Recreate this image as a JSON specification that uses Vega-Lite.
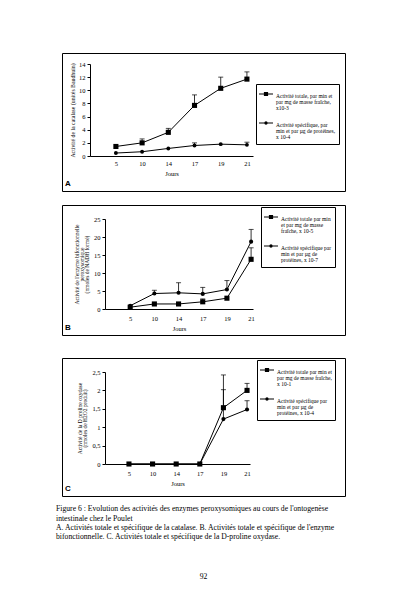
{
  "$schema": "https://vega.github.io/schema/vega-lite/v6.json",
  "background": "white",
  "padding": {"left": 56, "top": 52, "right": 0, "bottom": 0},
  "datasets": {
    "catalase": [
      {"jour": 5, "serie": "totale", "valeur": 1.45, "haut": null},
      {"jour": 10, "serie": "totale", "valeur": 2.0, "haut": 2.6},
      {"jour": 14, "serie": "totale", "valeur": 3.6, "haut": 4.2},
      {"jour": 17, "serie": "totale", "valeur": 7.7, "haut": 9.3},
      {"jour": 19, "serie": "totale", "valeur": 10.3, "haut": 12.0},
      {"jour": 21, "serie": "totale", "valeur": 11.7, "haut": 12.8},
      {"jour": 5, "serie": "spécifique", "valeur": 0.45, "haut": null},
      {"jour": 10, "serie": "spécifique", "valeur": 0.65, "haut": null},
      {"jour": 14, "serie": "spécifique", "valeur": 1.15, "haut": null},
      {"jour": 17, "serie": "spécifique", "valeur": 1.6, "haut": 2.0},
      {"jour": 19, "serie": "spécifique", "valeur": 1.8, "haut": null},
      {"jour": 21, "serie": "spécifique", "valeur": 1.7, "haut": 2.1}
    ],
    "enzyme": [
      {"jour": 5, "serie": "totale", "valeur": 0.5, "haut": null},
      {"jour": 10, "serie": "totale", "valeur": 1.4, "haut": null},
      {"jour": 14, "serie": "totale", "valeur": 1.4, "haut": null},
      {"jour": 17, "serie": "totale", "valeur": 2.0, "haut": 2.8},
      {"jour": 19, "serie": "totale", "valeur": 3.0, "haut": null},
      {"jour": 21, "serie": "totale", "valeur": 13.8, "haut": 17.0},
      {"jour": 5, "serie": "spécifique", "valeur": 0.9, "haut": null},
      {"jour": 10, "serie": "spécifique", "valeur": 4.3, "haut": 5.2},
      {"jour": 14, "serie": "spécifique", "valeur": 4.5, "haut": 7.3},
      {"jour": 17, "serie": "spécifique", "valeur": 4.2, "haut": 6.0},
      {"jour": 19, "serie": "spécifique", "valeur": 5.4, "haut": 7.9},
      {"jour": 21, "serie": "spécifique", "valeur": 18.7, "haut": 22.1}
    ],
    "oxydase": [
      {"jour": 5, "serie": "totale", "valeur": 0, "haut": null},
      {"jour": 10, "serie": "totale", "valeur": 0, "haut": null},
      {"jour": 14, "serie": "totale", "valeur": 0, "haut": null},
      {"jour": 17, "serie": "totale", "valeur": 0, "haut": null},
      {"jour": 19, "serie": "totale", "valeur": 1.53, "haut": 2.42},
      {"jour": 21, "serie": "totale", "valeur": 2.0, "haut": 2.19},
      {"jour": 5, "serie": "spécifique", "valeur": 0, "haut": null},
      {"jour": 10, "serie": "spécifique", "valeur": 0, "haut": null},
      {"jour": 14, "serie": "spécifique", "valeur": 0, "haut": null},
      {"jour": 17, "serie": "spécifique", "valeur": 0, "haut": null},
      {"jour": 19, "serie": "spécifique", "valeur": 1.22, "haut": 2.02},
      {"jour": 21, "serie": "spécifique", "valeur": 1.48, "haut": 1.72}
    ]
  },
  "spacing": 12,
  "vconcat": [
    {
      "width": 283,
      "height": 138,
      "data": {"name": "catalase"},
      "title": {"text": "A", "orient": "bottom", "anchor": "start", "offset": -11, "dx": 3, "font": "Liberation Sans", "fontSize": 8, "fontWeight": "bold", "color": "black"},
      "encoding": {
        "x": {
          "field": "jour", "type": "ordinal",
          "scale": {"type": "point", "domain": [5, 10, 14, 17, 19, 21], "range": [28, 191], "padding": 0.61, "align": 0.81},
          "axis": {"title": "Jours", "offset": -35, "labelAngle": 0, "ticks": false, "labelPadding": 4, "titlePadding": 4}
        },
        "y": {
          "field": "valeur", "type": "quantitative",
          "scale": {"domain": [0, 14], "range": [103, 11], "nice": false},
          "axis": {"title": "Activité de la catalase (unités Baudhuin)", "offset": -28, "values": [0, 2, 4, 6, 8, 10, 12, 14], "format": "d", "titleFontSize": 5.8, "titlePadding": 3}
        }
      },
      "layer": [
        {"mark": {"type": "line", "color": "black", "strokeWidth": 1}, "encoding": {"detail": {"field": "serie"}}},
        {"transform": [{"filter": "datum.haut != null"}], "mark": {"type": "rule", "color": "black", "strokeWidth": 0.8}, "encoding": {"y2": {"field": "haut"}}},
        {"transform": [{"filter": "datum.haut != null"}], "mark": {"type": "tick", "color": "black", "size": 5, "thickness": 1}, "encoding": {"y": {"field": "haut", "type": "quantitative"}}},
        {"mark": {"type": "point", "filled": true, "color": "black", "opacity": 1}, "encoding": {
          "shape": {"field": "serie", "type": "nominal", "scale": {"domain": ["totale", "spécifique"], "range": ["square", "circle"]}, "legend": null},
          "size": {"field": "serie", "type": "nominal", "scale": {"domain": ["totale", "spécifique"], "range": [26, 15]}, "legend": null}}},
        {"mark": {"type": "point", "size": 0, "filled": true, "color": "black", "opacity": 1}, "encoding": {
          "shape": {"field": "serie", "type": "nominal",
            "scale": {"domain": ["totale", "spécifique"], "range": ["M-1,-0.07H-0.3V0.07H-1ZM0.3,-0.07H1V0.07H0.3ZM-0.3,-0.3H0.3V0.3H-0.3Z", "M-1,-0.07H-0.24V0.07H-1ZM0.24,-0.07H1V0.07H0.24ZM0.24,0A0.24,0.24,0,1,1,-0.24,0A0.24,0.24,0,1,1,0.24,0Z"]},
            "legend": {"title": null, "orient": "none", "legendX": 194, "legendY": 31,
              "labelExpr": "datum.label == 'totale' ? ['Activité totale, par min et', 'par mg de masse fraîche,', 'x10-3'] : ['Activité spécifique, par', 'min et par µg de protéines,', 'x 10-4']"}}}}
      ],
      "resolve": {"scale": {"shape": "independent", "size": "independent"}}
    },
    {
      "spacing": 21,
      "vconcat": [
        {
          "width": 283,
          "height": 130,
          "data": {"name": "enzyme"},
          "title": {"text": "B", "orient": "bottom", "anchor": "start", "offset": -11, "dx": 3, "font": "Liberation Sans", "fontSize": 8, "fontWeight": "bold", "color": "black"},
          "encoding": {
            "x": {
              "field": "jour", "type": "ordinal",
              "scale": {"type": "point", "domain": [5, 10, 14, 17, 19, 21], "range": [43, 191], "padding": 0.56, "align": 0.93},
              "axis": {"title": "Jours", "offset": -26, "labelAngle": 0, "ticks": false, "labelPadding": 6, "titlePadding": 4}
            },
            "y": {
              "field": "valeur", "type": "quantitative",
              "scale": {"domain": [0, 25], "range": [104, 14], "nice": false},
              "axis": {"title": ["Activité de l'enzyme bifonctionnelle", "peroxysomique", "(nmoles de NADH formé)"], "offset": -43, "values": [0, 5, 10, 15, 20, 25], "format": "d", "titleFontSize": 5.5, "titleLineHeight": 5.2, "titlePadding": 4}
            }
          },
          "layer": [
            {"mark": {"type": "line", "color": "black", "strokeWidth": 1}, "encoding": {"detail": {"field": "serie"}}},
            {"transform": [{"filter": "datum.haut != null"}], "mark": {"type": "rule", "color": "black", "strokeWidth": 0.8}, "encoding": {"y2": {"field": "haut"}}},
            {"transform": [{"filter": "datum.haut != null"}], "mark": {"type": "tick", "color": "black", "size": 5, "thickness": 1}, "encoding": {"y": {"field": "haut", "type": "quantitative"}}},
            {"mark": {"type": "point", "filled": true, "color": "black", "opacity": 1}, "encoding": {
              "shape": {"field": "serie", "type": "nominal", "scale": {"domain": ["totale", "spécifique"], "range": ["square", "circle"]}, "legend": null},
              "size": {"field": "serie", "type": "nominal", "scale": {"domain": ["totale", "spécifique"], "range": [26, 17]}, "legend": null}}},
            {"mark": {"type": "point", "size": 0, "filled": true, "color": "black", "opacity": 1}, "encoding": {
              "shape": {"field": "serie", "type": "nominal",
                "scale": {"domain": ["totale", "spécifique"], "range": ["M-1,-0.07H-0.3V0.07H-1ZM0.3,-0.07H1V0.07H0.3ZM-0.3,-0.3H0.3V0.3H-0.3Z", "M-1,-0.07H-0.24V0.07H-1ZM0.24,-0.07H1V0.07H0.24ZM0.24,0A0.24,0.24,0,1,1,-0.24,0A0.24,0.24,0,1,1,0.24,0Z"]},
                "legend": {"title": null, "orient": "none", "legendX": 199, "legendY": 2,
                  "labelExpr": "datum.label == 'totale' ? ['Activité totale par min', 'et par mg de masse', 'fraîche, x 10-5'] : ['Activité spécifique par', 'min et par µg de', 'protéines, x 10-7']"}}}}
          ],
          "resolve": {"scale": {"shape": "independent", "size": "independent"}}
        },
        {
          "spacing": 8,
          "vconcat": [
            {
              "width": 283,
              "height": 138,
              "data": {"name": "oxydase"},
              "title": {"text": "C", "orient": "bottom", "anchor": "start", "offset": -11, "dx": 3, "font": "Liberation Sans", "fontSize": 8, "fontWeight": "bold", "color": "black"},
              "encoding": {
                "x": {
                  "field": "jour", "type": "ordinal",
                  "scale": {"type": "point", "domain": [5, 10, 14, 17, 19, 21], "range": [43, 188], "padding": 0.57, "align": 0.89},
                  "axis": {"title": "Jours", "offset": -32, "labelAngle": 0, "ticks": false, "labelPadding": 6, "titlePadding": 4}
                },
                "y": {
                  "field": "valeur", "type": "quantitative",
                  "scale": {"domain": [0, 2.5], "range": [106, 14], "nice": false},
                  "axis": {"title": ["Activité de la D proline oxydase", "(nmoles de H2O2 produit)"], "offset": -43, "values": [0, 0.5, 1, 1.5, 2, 2.5], "format": "~g", "labelExpr": "replace(datum.label, '.', ',')", "titleFontSize": 5.5, "titleLineHeight": 5.2, "titlePadding": 4}
                }
              },
              "layer": [
                {"mark": {"type": "line", "color": "black", "strokeWidth": 1}, "encoding": {"detail": {"field": "serie"}}},
                {"transform": [{"filter": "datum.haut != null"}], "mark": {"type": "rule", "color": "black", "strokeWidth": 0.8}, "encoding": {"y2": {"field": "haut"}}},
                {"transform": [{"filter": "datum.haut != null"}], "mark": {"type": "tick", "color": "black", "size": 5, "thickness": 1}, "encoding": {"y": {"field": "haut", "type": "quantitative"}}},
                {"mark": {"type": "point", "filled": true, "color": "black", "opacity": 1}, "encoding": {
                  "shape": {"field": "serie", "type": "nominal", "scale": {"domain": ["totale", "spécifique"], "range": ["square", "circle"]}, "legend": null},
                  "size": {"field": "serie", "type": "nominal", "scale": {"domain": ["totale", "spécifique"], "range": [26, 17]}, "legend": null}}},
                {"mark": {"type": "point", "size": 0, "filled": true, "color": "black", "opacity": 1}, "encoding": {
                  "shape": {"field": "serie", "type": "nominal",
                    "scale": {"domain": ["totale", "spécifique"], "range": ["M-1,-0.07H-0.3V0.07H-1ZM0.3,-0.07H1V0.07H0.3ZM-0.3,-0.3H0.3V0.3H-0.3Z", "M-1,-0.07H-0.24V0.07H-1ZM0.24,-0.07H1V0.07H0.24ZM0.24,0A0.24,0.24,0,1,1,-0.24,0A0.24,0.24,0,1,1,0.24,0Z"]},
                    "legend": {"title": null, "orient": "none", "legendX": 195, "legendY": 2,
                      "labelExpr": "datum.label == 'totale' ? ['Activité totale par min et', 'par mg de masse fraîche,', 'x 10-1'] : ['Activité spécifique par', 'min et par µg de', 'protéines, x 10-4']"}}}}
              ],
              "resolve": {"scale": {"shape": "independent", "size": "independent"}}
            },
            {
              "width": 283,
              "height": 44,
              "view": {"stroke": null},
              "title": {
                "text": [
                  "Figure 6 : Evolution des activités des enzymes peroxysomiques au cours de l'ontogenèse",
                  "\u00a0\u00a0\u00a0\u00a0\u00a0\u00a0\u00a0intestinale chez le Poulet",
                  "A. Activités totale et spécifique de la catalase. B. Activités totale et spécifique de l'enzyme",
                  "bifonctionnelle. C. Activités totale et spécifique de la D-proline oxydase."
                ],
                "orient": "top", "anchor": "start", "dx": -6, "offset": 14,
                "font": "Liberation Serif", "fontSize": 7.7, "fontWeight": "normal", "lineHeight": 9.3, "color": "black"
              },
              "data": {"values": [{"page": "92"}]},
              "mark": {"type": "text", "font": "Liberation Serif", "fontSize": 7.7, "color": "black"},
              "encoding": {"text": {"field": "page", "type": "nominal"}}
            }
          ]
        }
      ]
    }
  ],
  "config": {
    "view": {"stroke": "black", "strokeWidth": 1},
    "font": "Liberation Serif",
    "axis": {
      "grid": false,
      "domainColor": "black",
      "domainWidth": 1,
      "tickColor": "black",
      "tickSize": 3,
      "labelColor": "black",
      "titleColor": "black",
      "labelFont": "Liberation Serif",
      "titleFont": "Liberation Serif",
      "labelFontSize": 6.5,
      "titleFontSize": 6.5,
      "titleFontWeight": "normal",
      "labelPadding": 2
    },
    "legend": {
      "strokeColor": "black",
      "padding": 3,
      "cornerRadius": 0,
      "labelFont": "Liberation Serif",
      "labelFontSize": 5.5,
      "labelColor": "black",
      "labelLimit": 200,
      "labelBaseline": "top",
      "labelOffset": 3,
      "rowPadding": 4,
      "symbolSize": 196,
      "symbolStrokeWidth": 0,
      "symbolFillColor": "black",
      "symbolOpacity": 1
    },
    "style": {"guide-label": {"lineHeight": 6}}
  }
}
